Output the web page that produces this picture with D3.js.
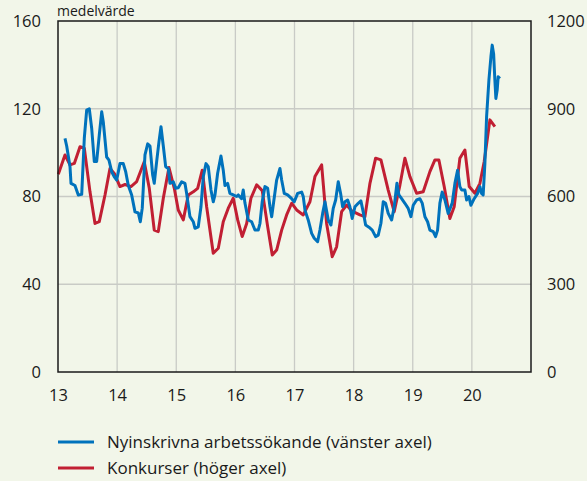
<!DOCTYPE html>
<html>
<head>
<meta charset="utf-8">
<script src="https://cdn.jsdelivr.net/npm/d3@7"></script>
<style>
  body { margin: 0; background: #f2f6e9; }
  svg { display: block; font-family: "Open Sans", sans-serif; }
</style>
</head>
<body>
<svg id="chart"></svg>
<script>
const yearTicks = [2013, 2014, 2015, 2016, 2017, 2018, 2019, 2020];
const yearLabels = ["13", "14", "15", "16", "17", "18", "19", "20"];
const leftTicks = [0, 40, 80, 120, 160];
const rightTicks = [0, 300, 600, 900, 1200];

// nyinskrivna arbetssökande, tusental (vänster axel)
const blueYear = [2013.118, 2013.147, 2013.203, 2013.220, 2013.287, 2013.343, 2013.401, 2013.445, 2013.485, 2013.529,
  2013.570, 2013.614, 2013.654, 2013.698, 2013.739, 2013.766, 2013.823, 2013.862, 2013.908, 2013.952,
  2013.993, 2014.048, 2014.104, 2014.145, 2014.189, 2014.246, 2014.302, 2014.358, 2014.392, 2014.425,
  2014.471, 2014.517, 2014.556, 2014.601, 2014.628, 2014.669, 2014.708, 2014.742, 2014.781, 2014.821,
  2014.865, 2014.894, 2014.950, 2014.990, 2015.034, 2015.092, 2015.147, 2015.176, 2015.232, 2015.288,
  2015.317, 2015.372, 2015.418, 2015.457, 2015.503, 2015.541, 2015.587, 2015.626, 2015.655, 2015.700,
  2015.756, 2015.795, 2015.824, 2015.869, 2015.908, 2015.964, 2016.022, 2016.049, 2016.106, 2016.133,
  2016.162, 2016.218, 2016.275, 2016.331, 2016.387, 2016.416, 2016.454, 2016.500, 2016.546, 2016.585,
  2016.614, 2016.652, 2016.698, 2016.754, 2016.783, 2016.827, 2016.884, 2016.952, 2016.996, 2017.053,
  2017.121, 2017.148, 2017.177, 2017.232, 2017.290, 2017.334, 2017.391, 2017.430, 2017.476, 2017.515,
  2017.571, 2017.616, 2017.655, 2017.696, 2017.740, 2017.780, 2017.814, 2017.853, 2017.899, 2017.937,
  2017.976, 2018.022, 2018.078, 2018.123, 2018.162, 2018.203, 2018.259, 2018.315, 2018.372, 2018.416,
  2018.462, 2018.501, 2018.541, 2018.585, 2018.643, 2018.686, 2018.732, 2018.766, 2018.812, 2018.867,
  2018.923, 2018.969, 2019.008, 2019.065, 2019.121, 2019.160, 2019.206, 2019.251, 2019.290, 2019.346,
  2019.386, 2019.420, 2019.459, 2019.498, 2019.544, 2019.599, 2019.667, 2019.713, 2019.759, 2019.797,
  2019.826, 2019.882, 2019.911, 2019.950, 2019.983, 2020.039, 2020.097, 2020.136, 2020.164, 2020.191,
  2020.220, 2020.249, 2020.288, 2020.322, 2020.344, 2020.368, 2020.389, 2020.406, 2020.428, 2020.445,
  2020.474];
const blueValue = [106.5, 103, 93.6, 86, 85, 80.7, 81, 106.6, 119.4, 120,
  111, 95.9, 96, 108, 118.6, 114, 98, 96.6, 91.3, 89,
  87.5, 95, 95, 91.3, 85, 80.7, 73, 72.5, 68.5, 74.7,
  99, 104, 103, 89.8, 86, 96, 105, 111.8, 103, 93.6,
  92.8, 86, 86.7, 83.8, 84, 86.7, 86, 81.4, 70.8, 68.5,
  65.5, 66.2, 75.3, 89, 95, 93.6, 83, 77.6, 80.7, 90.6,
  98.5, 92, 85, 86, 81.4, 80.7, 80, 80.7, 79, 83,
  77, 69.3, 68.5, 64.7, 64.7, 67.8, 77.6, 84.5, 83.7, 75.3,
  70.8, 78.4, 87.5, 92.8, 87.5, 81.4, 80.7, 79, 77.6, 81.4,
  82, 80, 73.8, 69.3, 63.2, 61, 59.4, 64.7, 72.3, 77.6,
  69.3, 67, 74.6, 78.4, 86.7, 81.4, 75.3, 77.6, 78.4, 75.3,
  70, 75.3, 76.9, 78, 73, 67, 66, 64.7, 61.7, 62.4,
  67.8, 77.6, 76.9, 72.3, 69.3, 75.3, 86, 80.7, 79, 76.9,
  74.6, 70.8, 76, 78.4, 79, 77, 70.8, 68.5, 64.7, 64,
  61.7, 64.7, 77, 82, 78.4, 72.3, 77, 86, 92, 84.5,
  83, 83, 78.4, 80, 76, 79, 81.4, 84.5, 81.4, 80.7,
  95, 116.4, 133, 143.7, 149, 145, 133, 124.7, 128.5, 134.6,
  133.8];

// konkurser, antal (höger axel)
const redYear = [2013.005, 2013.118, 2013.203, 2013.276, 2013.372, 2013.445, 2013.541, 2013.626, 2013.698, 2013.795,
  2013.879, 2013.952, 2014.048, 2014.133, 2014.234, 2014.331, 2014.459, 2014.544, 2014.628, 2014.696,
  2014.781, 2014.877, 2014.967, 2015.034, 2015.119, 2015.203, 2015.288, 2015.362, 2015.440, 2015.514,
  2015.626, 2015.711, 2015.795, 2015.880, 2015.964, 2016.039, 2016.116, 2016.191, 2016.263, 2016.360,
  2016.454, 2016.546, 2016.624, 2016.698, 2016.783, 2016.867, 2016.952, 2017.036, 2017.148, 2017.261,
  2017.346, 2017.459, 2017.543, 2017.638, 2017.712, 2017.797, 2017.882, 2017.966, 2018.106, 2018.191,
  2018.276, 2018.372, 2018.462, 2018.585, 2018.686, 2018.783, 2018.867, 2018.952, 2019.065, 2019.177,
  2019.290, 2019.375, 2019.442, 2019.532, 2019.628, 2019.701, 2019.797, 2019.882, 2019.955, 2020.051,
  2020.136, 2020.208, 2020.305, 2020.389];
const redValue = [676, 742, 708, 713, 770, 765, 616, 508, 514, 605,
  696, 679, 634, 641, 634, 651, 719, 628, 485, 480,
  594, 699, 628, 554, 520, 605, 616, 628, 690, 565,
  406, 423, 514, 560, 594, 520, 463, 508, 594, 640,
  620, 497, 400, 417, 485, 537, 577, 554, 537, 582,
  668, 708, 508, 394, 428, 548, 571, 551, 537, 531,
  645, 731, 725, 622, 548, 639, 731, 668, 611, 616,
  685, 725, 725, 634, 525, 565, 731, 759, 634, 611,
  645, 719, 862, 839];

const width = 587;
const height = 481;
const margin = { top: 21, right: 56, bottom: 109, left: 58 };
const fontSize = "16.5px";

const svg = d3.select("#chart")
  .attr("width", width)
  .attr("height", height);

const x = d3.scaleLinear()
  .domain([2013, 2021])
  .range([margin.left, width - margin.right]);
const yLeft = d3.scaleLinear()
  .domain([0, 160])
  .range([height - margin.bottom, margin.top]);
const yRight = d3.scaleLinear()
  .domain([0, 1200])
  .range([height - margin.bottom, margin.top]);

// rutnät
svg.append("g")
  .selectAll("line")
  .data(leftTicks.slice(1, -1))
  .join("line")
    .attr("x1", margin.left)
    .attr("x2", width - margin.right)
    .attr("y1", d => yLeft(d))
    .attr("y2", d => yLeft(d))
    .attr("stroke", "#c9cbc6")
    .attr("stroke-width", 1.3);
svg.append("g")
  .selectAll("line")
  .data(yearTicks.slice(1))
  .join("line")
    .attr("x1", d => x(d))
    .attr("x2", d => x(d))
    .attr("y1", margin.top)
    .attr("y2", height - margin.bottom)
    .attr("stroke", "#c9cbc6")
    .attr("stroke-width", 1.3);

const blueLine = d3.line()
  .x((d, i) => x(blueYear[i]))
  .y(d => yLeft(d));
const redLine = d3.line()
  .x((d, i) => x(redYear[i]))
  .y(d => yRight(d));

svg.append("path")
  .datum(redValue)
  .attr("d", redLine)
  .attr("fill", "none")
  .attr("stroke", "#c11f33")
  .attr("stroke-width", 3)
  .attr("stroke-linejoin", "round");
svg.append("path")
  .datum(blueValue)
  .attr("d", blueLine)
  .attr("fill", "none")
  .attr("stroke", "#0072bc")
  .attr("stroke-width", 3)
  .attr("stroke-linejoin", "round");

// ram
svg.append("rect")
  .attr("x", margin.left)
  .attr("y", margin.top)
  .attr("width", width - margin.left - margin.right)
  .attr("height", height - margin.top - margin.bottom)
  .attr("fill", "none")
  .attr("stroke", "#1a1a1a")
  .attr("stroke-width", 1.5);

const leftAxis = svg.append("g")
  .attr("transform", `translate(${margin.left - 17}, 0)`)
  .call(d3.axisLeft(yLeft).tickValues(leftTicks).tickSize(0).tickPadding(0));
const rightAxis = svg.append("g")
  .attr("transform", `translate(${width - margin.right + 16}, 0)`)
  .call(d3.axisRight(yRight).tickValues(rightTicks).tickFormat(d3.format("d")).tickSize(0).tickPadding(0));
const bottomAxis = svg.append("g")
  .attr("transform", `translate(0, ${height - margin.bottom + 17})`)
  .call(d3.axisBottom(x).tickValues(yearTicks).tickFormat((d, i) => yearLabels[i]).tickSize(0).tickPadding(0));

[leftAxis, rightAxis, bottomAxis].forEach(a => {
  a.select(".domain").remove();
  a.selectAll("text")
    .style("font-family", "'Open Sans', sans-serif")
    .style("font-size", fontSize)
    .attr("fill", "#1a1a1a");
});
bottomAxis.selectAll("text").attr("dy", "0.71em");

svg.append("text")
  .attr("x", 57)
  .attr("y", 16)
  .style("font-size", "14px")
  .attr("fill", "#1a1a1a")
  .text("medelvärde");

const legendItems = [
  { label: "Nyinskrivna arbetssökande (vänster axel)", color: "#0072bc" },
  { label: "Konkurser (höger axel)", color: "#c11f33" }
];

const legend = svg.append("g")
  .selectAll("g")
  .data(legendItems)
  .join("g")
    .attr("transform", (d, i) => `translate(58, ${442 + i * 26})`);

legend.append("line")
  .attr("x1", 0)
  .attr("x2", 36)
  .attr("stroke", d => d.color)
  .attr("stroke-width", 3);

legend.append("text")
  .attr("x", 49)
  .attr("dy", "0.35em")
  .style("font-size", "17px")
  .attr("fill", "#1a1a1a")
  .text(d => d.label);
</script>
</body>
</html>
